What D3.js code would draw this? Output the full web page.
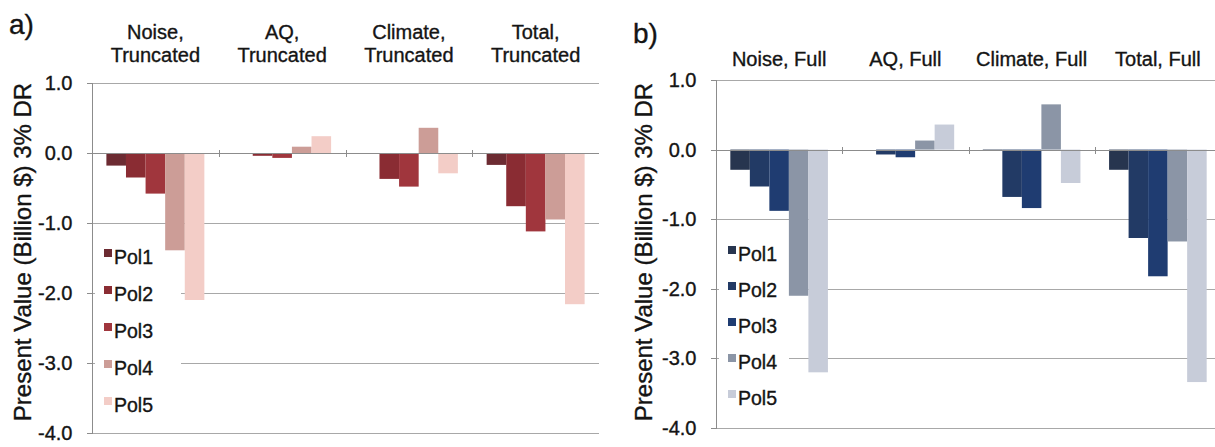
<!DOCTYPE html>
<html lang="en">
<head>
<meta charset="UTF-8">
<title>Present value by policy</title>
<script src="https://d3js.org/d3.v7.min.js"></script>
<style>
    body { margin: 0; background: #fff; }
    svg { display: block; font-family: "Liberation Sans", Arial, sans-serif; }
    text { fill: #141414; stroke: #141414; stroke-width: 0.35px; }
    .grid { stroke: #a8a8a8; stroke-width: 1; shape-rendering: crispEdges; }
    .axis path, .axis line { stroke: #8c8c8c; shape-rendering: crispEdges; }
    .axis text { font-size: 20px; }
    .cat { font-size: 20px; }
    .leg { font-size: 19.5px; }
</style>
</head>
<body>
<svg id="chart" width="1215" height="447"></svg>
<script>
    // data
    let policies = ["Pol1", "Pol2", "Pol3", "Pol4", "Pol5"]
    let catsTruncated = ["Noise, Truncated", "AQ, Truncated", "Climate, Truncated", "Total, Truncated"]
    let catsFull = ["Noise, Full", "AQ, Full", "Climate, Full", "Total, Full"]
    // one row per category, one value per policy (billion $)
    let truncatedValues = [
        [-0.18, -0.35, -0.58, -1.39, -2.10],
        [0.00, -0.04, -0.07, 0.09, 0.24],
        [0.00, -0.37, -0.48, 0.36, -0.29],
        [-0.17, -0.76, -1.12, -0.95, -2.16]
    ]
    let fullValues = [
        [-0.29, -0.53, -0.88, -2.10, -3.20],
        [0.00, -0.07, -0.11, 0.13, 0.36],
        [-0.01, -0.68, -0.84, 0.65, -0.48],
        [-0.29, -1.27, -1.82, -1.32, -3.34]
    ]
    let yTicks = [1, 0, -1, -2, -3, -4]
    let redColors = ["#6c2b32", "#8a2c33", "#a0363d", "#cc9d97", "#f3cdc7"]
    let blueColors = ["#27354f", "#223a65", "#1f3c71", "#8b95a6", "#c7ccd9"]

    let svg = d3.select("#chart")
    let fmt = d => d3.format(".1f")(d).replace("\u2212", "-")

    function panel(opt) {
        let g = svg.append("g")
        let x0 = d3.scaleBand().domain(opt.cats).range([opt.left, opt.right])
            .paddingInner(0.227).paddingOuter(0.1135)
        let x1 = d3.scaleBand().domain(policies).range([0, x0.bandwidth()])
        let y = d3.scaleLinear().domain([1, -4]).range([opt.top, opt.bottom])
        let color = d3.scaleOrdinal().domain(policies).range(opt.colors)

        // gridlines
        g.selectAll(".grid").data(yTicks).enter().append("line")
            .attr("class", "grid")
            .attr("x1", opt.left).attr("x2", opt.right)
            .attr("y1", d => Math.round(y(d)) + 0.5).attr("y2", d => Math.round(y(d)) + 0.5)

        // y axis
        g.append("g").attr("class", "axis")
            .attr("transform", `translate(${opt.left + 0.5},0)`)
            .call(d3.axisLeft(y).tickValues(yTicks).tickFormat(fmt).tickSize(6).tickSizeOuter(0).tickPadding(14))
        g.select(".axis .domain").remove()
        g.append("line").attr("class", "grid").style("stroke", "#8c8c8c")
            .attr("x1", opt.left + 0.5).attr("x2", opt.left + 0.5)
            .attr("y1", y(1)).attr("y2", y(-4))

        // legend background hides gridlines
        let legTop = opt.legY - 22
        g.append("rect").attr("x", opt.left + 3).attr("y", legTop)
            .attr("width", opt.legW).attr("height", y(-4) - legTop - 6)
            .attr("fill", "#fff")

        // bars
        let groups = g.selectAll(".grp").data(opt.cats).enter().append("g")
            .attr("transform", d => `translate(${x0(d)},0)`)
        groups.selectAll("rect")
            .data((d, i) => opt.values[i].map((v, j) => ({ key: policies[j], value: v })))
            .enter().append("rect")
            .attr("x", d => x1(d.key))
            .attr("width", x1.bandwidth())
            .attr("y", d => y(Math.max(0, d.value)))
            .attr("height", d => Math.abs(y(d.value) - y(0)))
            .attr("fill", d => color(d.key))

        // zero line and category ticks
        g.append("line").attr("class", "grid").style("stroke", "#8c8c8c")
            .attr("x1", opt.left).attr("x2", opt.right)
            .attr("y1", Math.round(y(0)) + 0.5).attr("y2", Math.round(y(0)) + 0.5)
        g.selectAll(".ctick").data(opt.cats.slice(1)).enter().append("line")
            .attr("class", "grid").style("stroke", "#8c8c8c")
            .attr("x1", d => Math.round(x0(d) - x0.step() * 0.1135) + 0.5)
            .attr("x2", d => Math.round(x0(d) - x0.step() * 0.1135) + 0.5)
            .attr("y1", y(0) - 3).attr("y2", y(0) + 4)

        // category titles
        opt.cats.forEach(c => {
            let lines = opt.twoLine ? [c.split(" ")[0], c.split(" ")[1]] : [c]
            lines.forEach((t, k) => {
                g.append("text").attr("class", "cat")
                    .attr("x", x0(c) + x0.bandwidth() / 2)
                    .attr("y", opt.titleY + k * 23)
                    .attr("text-anchor", "middle")
                    .text(t)
            })
        })

        // legend
        policies.forEach((p, i) => {
            let cy = opt.legY + i * opt.legStep
            g.append("rect").attr("x", opt.left + 12).attr("y", cy - 9)
                .attr("width", 8).attr("height", 8).attr("fill", color(p))
            g.append("text").attr("class", "leg")
                .attr("x", opt.left + 22).attr("y", cy + 6).text(p)
        })

        // axis title and panel letter
        g.append("text")
            .attr("transform", `translate(${opt.yTitleX},252) rotate(-90)`)
            .attr("text-anchor", "middle")
            .style("font-size", "24px")
            .text("Present Value (Billion $) 3% DR")
        g.append("text").attr("x", opt.letterX).attr("y", opt.letterY)
            .style("font-size", "28px")
            .text(opt.letter)
    }

    panel({
        cats: catsTruncated, values: truncatedValues, colors: redColors,
        left: 92, right: 599, top: 83, bottom: 433,
        twoLine: true, titleY: 39, legY: 258, legStep: 37, legW: 86,
        yTitleX: 31, letter: "a)", letterX: 9, letterY: 34
    })
    panel({
        cats: catsFull, values: fullValues, colors: blueColors,
        left: 716, right: 1221, top: 80, bottom: 428,
        twoLine: false, titleY: 66, legY: 255, legStep: 36, legW: 70,
        yTitleX: 652, letter: "b)", letterX: 633, letterY: 43
    })
</script>
</body>
</html>
